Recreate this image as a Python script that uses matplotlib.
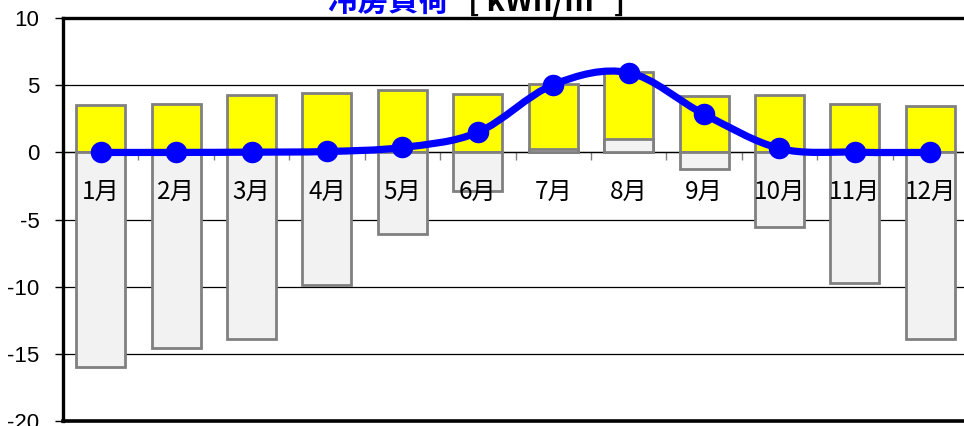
import matplotlib
matplotlib.use("Agg")
import matplotlib.pyplot as plt
import matplotlib.transforms as mtransforms
from matplotlib.path import Path
from matplotlib.patches import PathPatch
import numpy as np

months = ["1月", "2月", "3月", "4月", "5月", "6月", "7月", "8月", "9月", "10月", "11月", "12月"]
gain = [3.55, 3.63, 4.25, 4.43, 4.68, 4.36, 5.1, 5.97, 4.18, 4.3, 3.63, 3.48]
loss = [-16.0, -14.6, -13.9, -9.85, -6.1, -2.84, 0.25, 1.02, -1.22, -5.55, -9.75, -13.93]
cooling = [0.0, 0.0, 0.02, 0.07, 0.37, 1.5, 5.05, 5.95, 2.85, 0.3, 0.02, 0.0]
yticks = [10, 5, 0, -5, -10, -15, -20]
title_main = "冷房負荷"
title_unit = "[ kWh/m² ]"

W, H = 964, 426
fig = plt.figure(figsize=(W / 100, H / 100), dpi=100)
left, top, bottom, right = 63, 18.3, 420.7, 968
ax = fig.add_axes([left / W, (H - bottom) / H, (right - left) / W, (bottom - top) / H])

x = np.arange(len(months))
ax.bar(x, gain, width=0.65, color="#FFFF00", edgecolor="#808080", linewidth=2.0, zorder=3)
ax.bar(x, loss, width=0.65, color="#F2F2F2", edgecolor="#808080", linewidth=2.0, zorder=4)

# smoothed line (Bezier through the points, like a spreadsheet "smoothed line")
px = x.astype(float)
py = np.array(cooling, dtype=float)
verts = [(px[0], py[0])]
codes = [Path.MOVETO]
n = len(px)
for i in range(n - 1):
    p0 = np.array([px[max(i - 1, 0)], py[max(i - 1, 0)]])
    p1 = np.array([px[i], py[i]])
    p2 = np.array([px[i + 1], py[i + 1]])
    p3 = np.array([px[min(i + 2, n - 1)], py[min(i + 2, n - 1)]])
    c1 = p1 + (p2 - p0) / 6.0
    c2 = p2 - (p3 - p1) / 6.0
    verts += [tuple(c1), tuple(c2), tuple(p2)]
    codes += [Path.CURVE4, Path.CURVE4, Path.CURVE4]
patch = PathPatch(Path(verts, codes), facecolor="none", edgecolor="#0000FF",
                  linewidth=5.2, zorder=7, capstyle="round", joinstyle="round")
ax.add_patch(patch)
ax.plot(px, py, linestyle="none", marker="o", markersize=14.5, color="#0000FF", zorder=8)

ax.set_xlim(-0.5, len(months) - 0.5)
ax.set_ylim(-20, 10)
ax.set_yticks(yticks)
ax.set_yticklabels([str(v) for v in yticks], fontfamily="Liberation Sans", fontsize=16)
ax.tick_params(axis="y", direction="out", length=6, width=1, pad=11, colors="black")
ax.yaxis.grid(True, color="black", linewidth=0.9, zorder=1)
ax.set_axisbelow(True)

ax.set_xticks([])
ax.set_xticks(np.arange(len(months) + 1) - 0.5, minor=True)
ax.tick_params(axis="x", which="minor", direction="out", length=6, width=1, color="#808080")
ax.spines["bottom"].set_position(("data", 0))
ax.spines["bottom"].set_linewidth(0.9)
ax.spines["bottom"].set_zorder(1)
ax.spines["right"].set_visible(False)
ax.spines["left"].set_linewidth(2.4)
ax.spines["top"].set_linewidth(2.4)
ax.axhline(-20, color="black", linewidth=2.6, clip_on=False, zorder=9)

off = mtransforms.offset_copy(ax.transData, fig=fig, x=0, y=-39, units="dots")
for i, m in enumerate(months):
    ax.text(i, 0, m, transform=off, ha="center", va="center", fontsize=17.5,
            fontfamily="Noto Sans CJK JP", color="black", zorder=6)

fig.text(327 / W, (H - 11) / H, title_main, ha="left", va="baseline", fontsize=22,
         fontweight="bold", fontfamily="Noto Sans CJK JP", color="#0000FF")
fig.text(468 / W, (H - 11) / H, title_unit, ha="left", va="baseline", fontsize=22,
         fontweight="bold", fontfamily="Noto Sans CJK JP", color="black")

fig.savefig("out.png", dpi=100)
